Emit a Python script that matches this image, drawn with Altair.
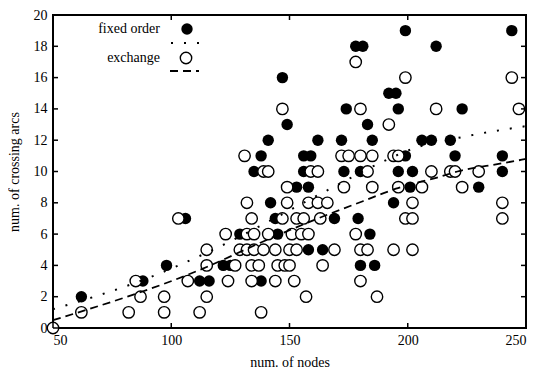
import altair as alt
import pandas as pd

# ---- data ----
fixed_x = [62,
           88, 112, 116, 138,
           98, 122, 125, 180, 186,
           158, 164,
           129, 145, 151, 184,
           106, 144, 169, 179,
           142, 194,
           153, 158, 201, 230,
           135, 156, 173, 180, 196, 202, 240,
           138, 156, 159, 199, 220, 240,
           141, 162, 172, 185, 206, 210, 218,
           149, 183,
           174, 196, 223,
           192, 195,
           147,
           178, 181, 212,
           199, 244]
fixed_y = [2,
           3, 3, 3, 3,
           4, 4, 4, 4, 4,
           5, 5,
           6, 6, 6, 6,
           7, 7, 7, 7,
           8, 8,
           9, 9, 9, 9,
           10, 10, 10, 10, 10, 10, 10,
           11, 11, 11, 11, 11, 11,
           12, 12, 12, 12, 12, 12, 12,
           13, 13,
           14, 14, 14,
           15, 15,
           16,
           18, 18, 18,
           19, 19]

exch_x = [50,
          62, 82, 97, 112, 138,
          87, 97, 115, 157, 187,
          85, 107, 124, 134, 144, 152, 180,
          115, 127, 134, 137, 145, 148, 150, 164,
          115, 129, 132, 135, 139, 144, 150, 153, 169, 180, 183, 194, 202,
          123, 132, 135, 141, 151, 155, 158, 178,
          103, 134, 147, 153, 156, 163, 199, 202, 240,
          132, 149, 158, 162, 166, 202, 240,
          149, 173, 185, 196, 206, 223,
          139, 141, 159, 162, 183, 210, 218, 220, 230,
          131, 172, 175, 180, 185, 194, 196,
          192,
          147, 180, 212, 247,
          199, 244,
          178]
exch_y = [0,
          1, 1, 1, 1, 1,
          2, 2, 2, 2, 2,
          3, 3, 3, 3, 3, 3, 3,
          4, 4, 4, 4, 4, 4, 4, 4,
          5, 5, 5, 5, 5, 5, 5, 5, 5, 5, 5, 5, 5,
          6, 6, 6, 6, 6, 6, 6, 6,
          7, 7, 7, 7, 7, 7, 7, 7, 7,
          8, 8, 8, 8, 8, 8, 8,
          9, 9, 9, 9, 9, 9,
          10, 10, 10, 10, 10, 10, 10, 10, 10,
          11, 11, 11, 11, 11, 11, 11,
          13,
          14, 14, 14, 14,
          16, 16,
          17]

# fitted curves
fit_fixed_x = [50, 92, 112, 166, 189, 203, 223, 250]
fit_fixed_y = [1.2, 3.3, 4.6, 8.8, 10.6, 11.5, 12.2, 12.9]
fit_exch_x = [50, 115, 137, 162, 181, 195, 212, 221, 239, 250]
fit_exch_y = [0.5, 3.9, 5.4, 7.0, 8.1, 8.9, 9.6, 10.0, 10.5, 10.8]

x_ticks = [50, 100, 150, 200, 250]
y_ticks = [0, 2, 4, 6, 8, 10, 12, 14, 16, 18, 20]

legend_labels = ["fixed order", "exchange"]

FONT = "Liberation Serif"
W, H = 473, 313
PT = 130

fixed_df = pd.DataFrame({"x": fixed_x, "y": fixed_y})
exch_df = pd.DataFrame({"x": exch_x, "y": exch_y})
fitf_df = pd.DataFrame({"x": fit_fixed_x, "y": fit_fixed_y})
fite_df = pd.DataFrame({"x": fit_exch_x, "y": fit_exch_y})
xt_df = pd.DataFrame({"x": x_ticks})
yt_df = pd.DataFrame({"y": y_ticks})

xs = alt.Scale(domain=[50, 250], nice=False, zero=False)
ys = alt.Scale(domain=[0, 20], nice=False, zero=False)

x_axis = alt.Axis(values=x_ticks, ticks=False, domain=False, grid=False,
                  labelFont=FONT, labelFontSize=14, labelColor="black",
                  labelPadding=5, title="num. of nodes", titleFont=FONT,
                  titleFontSize=14, titleFontWeight="normal", titleColor="black",
                  titlePadding=8)
y_axis = alt.Axis(values=y_ticks, ticks=False, domain=False, grid=False,
                  labelFont=FONT, labelFontSize=14, labelColor="black",
                  labelPadding=6, title="num. of crossing arcs", titleFont=FONT,
                  titleFontSize=14, titleFontWeight="normal", titleColor="black",
                  titlePadding=12)

X = alt.X("x:Q", scale=xs, axis=x_axis, title="num. of nodes")
Y = alt.Y("y:Q", scale=ys, axis=y_axis, title="num. of crossing arcs")

filled = alt.Chart(fixed_df).mark_circle(size=PT, color="black", opacity=1).encode(x=X, y=Y)
opened = alt.Chart(exch_df).mark_circle(size=PT, fill="white", stroke="black",
                                        strokeWidth=1.4, opacity=1).encode(x=X, y=Y)
line_f = alt.Chart(fitf_df).mark_line(color="black", strokeWidth=2,
                                      strokeDash=[2, 11], interpolate="monotone").encode(x=X, y=Y)
line_e = alt.Chart(fite_df).mark_line(color="black", strokeWidth=1.8,
                                      strokeDash=[8, 5], interpolate="monotone").encode(x=X, y=Y)

TL = 5
tick_b = alt.Chart(xt_df).mark_rule(color="black", strokeWidth=1.5).encode(
    x=X, y=alt.value(H), y2=alt.value(H - TL))
tick_t = alt.Chart(xt_df).mark_rule(color="black", strokeWidth=1.5).encode(
    x=X, y=alt.value(0), y2=alt.value(TL))
tick_l = alt.Chart(yt_df).mark_rule(color="black", strokeWidth=1.5).encode(
    y=Y, x=alt.value(0), x2=alt.value(TL))
tick_r = alt.Chart(yt_df).mark_rule(color="black", strokeWidth=1.5).encode(
    y=Y, x=alt.value(W), x2=alt.value(W - TL))

# key (top-left, inside the frame)
leg_df = pd.DataFrame({"label": legend_labels, "py": [14, 43]})
leg_text = alt.Chart(leg_df).mark_text(align="right", baseline="middle", font=FONT,
                                       fontSize=14, color="black").encode(
    x=alt.value(107), y=alt.Y("py:Q", scale=None), text="label:N")
leg_f = alt.Chart(leg_df.iloc[[0]]).mark_circle(size=PT, color="black", opacity=1).encode(
    x=alt.value(134), y=alt.Y("py:Q", scale=None))
leg_o = alt.Chart(leg_df.iloc[[1]]).mark_circle(size=PT, fill="white", stroke="black",
                                                 strokeWidth=1.4, opacity=1).encode(
    x=alt.value(133), y=alt.Y("py:Q", scale=None))
leg_lf = alt.Chart(leg_df.iloc[[0]]).mark_rule(color="black", strokeWidth=2,
                                                strokeDash=[2, 11]).encode(
    x=alt.value(118), x2=alt.value(146), y=alt.value(28))
leg_le = alt.Chart(leg_df.iloc[[1]]).mark_rule(color="black", strokeWidth=1.8,
                                                strokeDash=[8, 5]).encode(
    x=alt.value(117), x2=alt.value(146), y=alt.value(56))

chart = alt.layer(
    filled, opened, line_f, line_e, tick_b, tick_t, tick_l, tick_r,
    leg_text, leg_f, leg_o, leg_lf, leg_le
).properties(
    width=W, height=H,
    autosize=alt.AutoSizeParams(type="none"),
    padding={"left": 45, "top": 7, "right": 7, "bottom": 40},
    background="white",
).configure_view(stroke="black", strokeWidth=2)

chart.save("out.html", embed_options={"renderer": "svg", "actions": False})
